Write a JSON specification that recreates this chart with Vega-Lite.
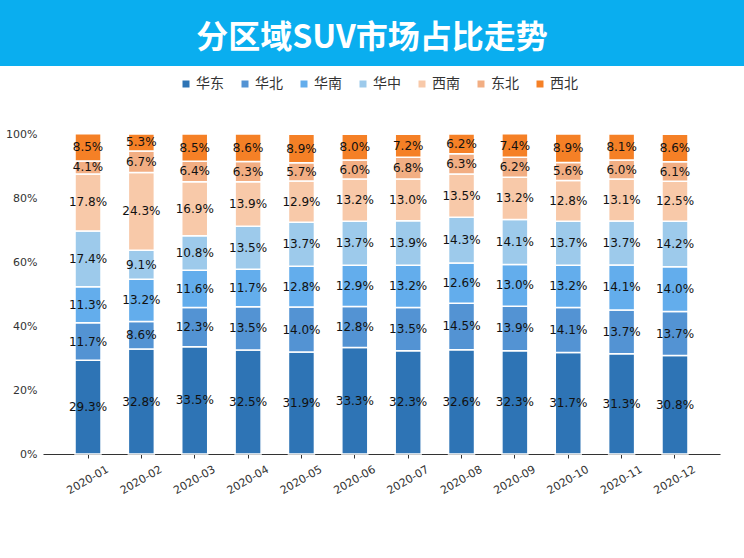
{
  "$schema": "https://vega.github.io/schema/vega-lite/v6.json",
  "padding": 0,
  "spacing": 62,
  "align": "none",
  "background": "white",
  "config": {"view": {"stroke": null}},
  "vconcat": [
    {
      "width": 744,
      "height": 66,
      "view": {"fill": "#0AAEEF", "stroke": null},
      "data": {"values": [{"title": "分区域SUV市场占比走势"}]},
      "mark": {"type": "text", "font": "Noto Sans CJK SC", "fontWeight": "bold", "fontSize": 32, "color": "white", "baseline": "middle", "align": "center", "dy": 5},
      "encoding": {"text": {"field": "title", "type": "nominal"}}
    },
    {
      "width": 720,
      "height": 320,
      "data": {"values": [
        {"month":"2020-01","region":"华东","rank":1,"value":0.293},
        {"month":"2020-01","region":"华北","rank":2,"value":0.117},
        {"month":"2020-01","region":"华南","rank":3,"value":0.113},
        {"month":"2020-01","region":"华中","rank":4,"value":0.174},
        {"month":"2020-01","region":"西南","rank":5,"value":0.178},
        {"month":"2020-01","region":"东北","rank":6,"value":0.041},
        {"month":"2020-01","region":"西北","rank":7,"value":0.085},
        {"month":"2020-02","region":"华东","rank":1,"value":0.328},
        {"month":"2020-02","region":"华北","rank":2,"value":0.086},
        {"month":"2020-02","region":"华南","rank":3,"value":0.132},
        {"month":"2020-02","region":"华中","rank":4,"value":0.091},
        {"month":"2020-02","region":"西南","rank":5,"value":0.243},
        {"month":"2020-02","region":"东北","rank":6,"value":0.067},
        {"month":"2020-02","region":"西北","rank":7,"value":0.053},
        {"month":"2020-03","region":"华东","rank":1,"value":0.335},
        {"month":"2020-03","region":"华北","rank":2,"value":0.123},
        {"month":"2020-03","region":"华南","rank":3,"value":0.116},
        {"month":"2020-03","region":"华中","rank":4,"value":0.108},
        {"month":"2020-03","region":"西南","rank":5,"value":0.169},
        {"month":"2020-03","region":"东北","rank":6,"value":0.064},
        {"month":"2020-03","region":"西北","rank":7,"value":0.085},
        {"month":"2020-04","region":"华东","rank":1,"value":0.325},
        {"month":"2020-04","region":"华北","rank":2,"value":0.135},
        {"month":"2020-04","region":"华南","rank":3,"value":0.117},
        {"month":"2020-04","region":"华中","rank":4,"value":0.135},
        {"month":"2020-04","region":"西南","rank":5,"value":0.139},
        {"month":"2020-04","region":"东北","rank":6,"value":0.063},
        {"month":"2020-04","region":"西北","rank":7,"value":0.086},
        {"month":"2020-05","region":"华东","rank":1,"value":0.319},
        {"month":"2020-05","region":"华北","rank":2,"value":0.140},
        {"month":"2020-05","region":"华南","rank":3,"value":0.128},
        {"month":"2020-05","region":"华中","rank":4,"value":0.137},
        {"month":"2020-05","region":"西南","rank":5,"value":0.129},
        {"month":"2020-05","region":"东北","rank":6,"value":0.057},
        {"month":"2020-05","region":"西北","rank":7,"value":0.089},
        {"month":"2020-06","region":"华东","rank":1,"value":0.333},
        {"month":"2020-06","region":"华北","rank":2,"value":0.128},
        {"month":"2020-06","region":"华南","rank":3,"value":0.129},
        {"month":"2020-06","region":"华中","rank":4,"value":0.137},
        {"month":"2020-06","region":"西南","rank":5,"value":0.132},
        {"month":"2020-06","region":"东北","rank":6,"value":0.060},
        {"month":"2020-06","region":"西北","rank":7,"value":0.080},
        {"month":"2020-07","region":"华东","rank":1,"value":0.323},
        {"month":"2020-07","region":"华北","rank":2,"value":0.135},
        {"month":"2020-07","region":"华南","rank":3,"value":0.132},
        {"month":"2020-07","region":"华中","rank":4,"value":0.139},
        {"month":"2020-07","region":"西南","rank":5,"value":0.130},
        {"month":"2020-07","region":"东北","rank":6,"value":0.068},
        {"month":"2020-07","region":"西北","rank":7,"value":0.072},
        {"month":"2020-08","region":"华东","rank":1,"value":0.326},
        {"month":"2020-08","region":"华北","rank":2,"value":0.145},
        {"month":"2020-08","region":"华南","rank":3,"value":0.126},
        {"month":"2020-08","region":"华中","rank":4,"value":0.143},
        {"month":"2020-08","region":"西南","rank":5,"value":0.135},
        {"month":"2020-08","region":"东北","rank":6,"value":0.063},
        {"month":"2020-08","region":"西北","rank":7,"value":0.062},
        {"month":"2020-09","region":"华东","rank":1,"value":0.323},
        {"month":"2020-09","region":"华北","rank":2,"value":0.139},
        {"month":"2020-09","region":"华南","rank":3,"value":0.130},
        {"month":"2020-09","region":"华中","rank":4,"value":0.141},
        {"month":"2020-09","region":"西南","rank":5,"value":0.132},
        {"month":"2020-09","region":"东北","rank":6,"value":0.062},
        {"month":"2020-09","region":"西北","rank":7,"value":0.074},
        {"month":"2020-10","region":"华东","rank":1,"value":0.317},
        {"month":"2020-10","region":"华北","rank":2,"value":0.141},
        {"month":"2020-10","region":"华南","rank":3,"value":0.132},
        {"month":"2020-10","region":"华中","rank":4,"value":0.137},
        {"month":"2020-10","region":"西南","rank":5,"value":0.128},
        {"month":"2020-10","region":"东北","rank":6,"value":0.056},
        {"month":"2020-10","region":"西北","rank":7,"value":0.089},
        {"month":"2020-11","region":"华东","rank":1,"value":0.313},
        {"month":"2020-11","region":"华北","rank":2,"value":0.137},
        {"month":"2020-11","region":"华南","rank":3,"value":0.141},
        {"month":"2020-11","region":"华中","rank":4,"value":0.137},
        {"month":"2020-11","region":"西南","rank":5,"value":0.131},
        {"month":"2020-11","region":"东北","rank":6,"value":0.060},
        {"month":"2020-11","region":"西北","rank":7,"value":0.081},
        {"month":"2020-12","region":"华东","rank":1,"value":0.308},
        {"month":"2020-12","region":"华北","rank":2,"value":0.137},
        {"month":"2020-12","region":"华南","rank":3,"value":0.140},
        {"month":"2020-12","region":"华中","rank":4,"value":0.142},
        {"month":"2020-12","region":"西南","rank":5,"value":0.125},
        {"month":"2020-12","region":"东北","rank":6,"value":0.061},
        {"month":"2020-12","region":"西北","rank":7,"value":0.086}
      ]},
      "encoding": {
        "x": {
          "field": "month", "type": "ordinal", "title": null,
          "scale": {"range": [43, 720], "paddingInner": 0.513, "paddingOuter": 0.6},
          "axis": {"labelAngle": -30, "labelAlign": "center", "labelBaseline": "middle", "labelPadding": 22, "labelFont": "DejaVu Sans", "labelFontSize": 11, "labelColor": "#333333", "domainColor": "#333333", "domainWidth": 1.2, "tickColor": "#333333", "tickSize": 4, "grid": false}
        },
        "order": {"field": "rank", "type": "quantitative", "sort": "ascending"}
      },
      "layer": [
        {
          "mark": {"type": "bar", "stroke": "white", "strokeWidth": 1.5},
          "encoding": {
            "y": {"field": "value", "type": "quantitative", "stack": "zero", "title": null,
              "scale": {"domain": [0, 1], "nice": false},
              "axis": {"values": [0, 0.2, 0.4, 0.6, 0.8, 1], "format": ".0%", "domain": false, "ticks": false, "grid": false, "offset": -43, "labelPadding": 6, "labelFont": "DejaVu Sans", "labelFontSize": 11, "labelColor": "#333333"}},
            "color": {
              "field": "region", "type": "nominal",
              "scale": {"domain": ["华东", "华北", "华南", "华中", "西南", "东北", "西北"], "range": ["#2E74B5", "#5393D3", "#63ADEC", "#9DCAEB", "#F8C9A9", "#F2AE83", "#F58026"]},
              "legend": {"title": null, "orient": "none", "legendX": 179, "legendY": 77, "direction": "horizontal", "columns": 7, "columnPadding": 14, "symbolType": "square", "symbolSize": 49, "symbolStrokeWidth": 0, "labelFont": "Noto Sans CJK SC", "labelFontSize": 14, "labelColor": "#333333", "labelOffset": 3, "padding": 0}
            }
          }
        },
        {
          "mark": {"type": "text", "font": "DejaVu Sans", "fontSize": 12, "color": "#111111", "baseline": "middle", "align": "center"},
          "encoding": {
            "y": {"field": "value", "type": "quantitative", "stack": "zero", "bandPosition": 0.5},
            "detail": {"field": "region", "type": "nominal"},
            "text": {"field": "value", "type": "quantitative", "format": ".1%"}
          }
        }
      ]
    }
  ]
}
